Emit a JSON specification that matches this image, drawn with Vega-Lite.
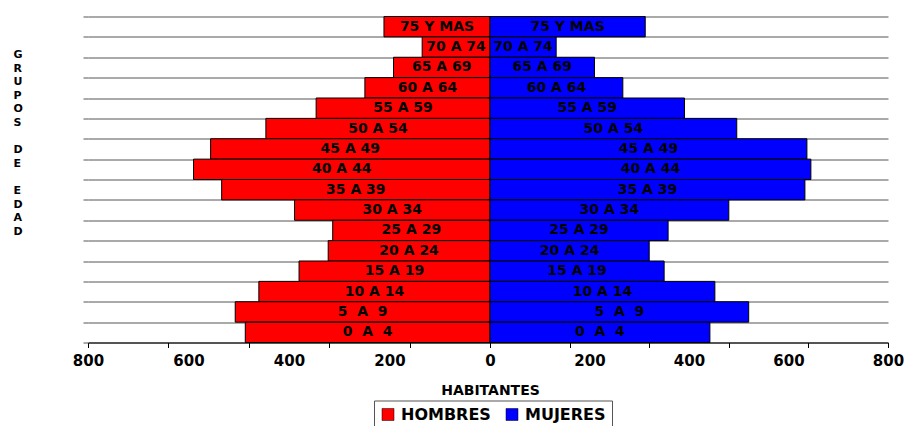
{
  "$schema": "https://vega.github.io/schema/vega-lite/v6.json",
  "background": "white",
  "padding": {"left": 13, "top": 15.5, "right": 0, "bottom": 0},
  "config": {
    "view": {"stroke": null},
    "font": "DejaVu Sans"
  },
  "data": {
    "values": [
      {"grupo": "75 Y MAS", "sexo": "HOMBRES", "habitantes": 211},
      {"grupo": "70 A 74", "sexo": "HOMBRES", "habitantes": 135},
      {"grupo": "65 A 69", "sexo": "HOMBRES", "habitantes": 192},
      {"grupo": "60 A 64", "sexo": "HOMBRES", "habitantes": 249},
      {"grupo": "55 A 59", "sexo": "HOMBRES", "habitantes": 346},
      {"grupo": "50 A 54", "sexo": "HOMBRES", "habitantes": 446},
      {"grupo": "45 A 49", "sexo": "HOMBRES", "habitantes": 556},
      {"grupo": "40 A 44", "sexo": "HOMBRES", "habitantes": 590},
      {"grupo": "35 A 39", "sexo": "HOMBRES", "habitantes": 534},
      {"grupo": "30 A 34", "sexo": "HOMBRES", "habitantes": 389},
      {"grupo": "25 A 29", "sexo": "HOMBRES", "habitantes": 313},
      {"grupo": "20 A 24", "sexo": "HOMBRES", "habitantes": 322},
      {"grupo": "15 A 19", "sexo": "HOMBRES", "habitantes": 380},
      {"grupo": "10 A 14", "sexo": "HOMBRES", "habitantes": 460},
      {"grupo": "5\u00a0 A\u00a0 9", "sexo": "HOMBRES", "habitantes": 507},
      {"grupo": "0\u00a0 A\u00a0 4", "sexo": "HOMBRES", "habitantes": 487},
      {"grupo": "75 Y MAS", "sexo": "MUJERES", "habitantes": 312},
      {"grupo": "70 A 74", "sexo": "MUJERES", "habitantes": 133},
      {"grupo": "65 A 69", "sexo": "MUJERES", "habitantes": 210},
      {"grupo": "60 A 64", "sexo": "MUJERES", "habitantes": 267},
      {"grupo": "55 A 59", "sexo": "MUJERES", "habitantes": 391},
      {"grupo": "50 A 54", "sexo": "MUJERES", "habitantes": 496},
      {"grupo": "45 A 49", "sexo": "MUJERES", "habitantes": 637},
      {"grupo": "40 A 44", "sexo": "MUJERES", "habitantes": 645},
      {"grupo": "35 A 39", "sexo": "MUJERES", "habitantes": 633},
      {"grupo": "30 A 34", "sexo": "MUJERES", "habitantes": 480},
      {"grupo": "25 A 29", "sexo": "MUJERES", "habitantes": 358},
      {"grupo": "20 A 24", "sexo": "MUJERES", "habitantes": 320},
      {"grupo": "15 A 19", "sexo": "MUJERES", "habitantes": 350},
      {"grupo": "10 A 14", "sexo": "MUJERES", "habitantes": 452},
      {"grupo": "5\u00a0 A\u00a0 9", "sexo": "MUJERES", "habitantes": 520},
      {"grupo": "0\u00a0 A\u00a0 4", "sexo": "MUJERES", "habitantes": 442}
    ]
  },
  "spacing": 0,
  "bounds": "flush",
  "resolve": {"scale": {"color": "shared"}, "legend": {"color": "shared"}},
  "hconcat": [
    {
      "width": 402,
      "height": 326,
      "transform": [{"filter": "datum.sexo === 'HOMBRES'"}],
      "resolve": {"scale": {"x": "independent"}, "axis": {"x": "independent"}},
      "encoding": {
        "y": {
          "field": "grupo", "type": "nominal", "sort": null,
          "scale": {"paddingInner": 0, "paddingOuter": 0},
          "axis": {
            "title": ["G", "R", "U", "P", "O", "S", "\u200b", "D", "E", "\u200b", "E", "D", "A", "D"],
            "titleAngle": 0, "titleAlign": "left", "titleBaseline": "alphabetic",
            "titleX": -75, "titleY": 41,
            "titleFont": "DejaVu Sans", "titleFontSize": 11, "titleFontWeight": "bold",
            "titleLineHeight": 13.6, "titleColor": "black",
            "labels": false, "domain": false,
            "ticks": true, "tickSize": 5, "tickColor": "#555555",
            "grid": true, "gridColor": "#555555", "gridOpacity": 1,
            "tickBand": "extent"
          }
        }
      },
      "layer": [
        {
          "mark": {"type": "bar", "stroke": "black", "strokeWidth": 1},
          "encoding": {
            "x": {
              "field": "habitantes", "type": "quantitative",
              "scale": {"domain": [0, 800], "reverse": true, "nice": false, "zero": true},
              "axis": {
                "values": [0, 160, 200, 320, 400, 480, 600, 640, 800],
                "labelExpr": "datum.value % 200 === 0 ? datum.label : ''",
                "labelOverlap": false, "labelFlush": false, "labelBound": false,
                "labelFont": "DejaVu Sans", "labelFontSize": 15, "labelFontWeight": "bold", "labelColor": "black",
                "labelPadding": 6,
                "tickSize": 5, "tickColor": "black",
                "tickOpacity": {"condition": {"test": "datum.value % 160 === 0", "value": 1}, "value": 0},
                "domainColor": "black", "grid": false,
                "title": "HABITANTES", "titleX": 402, "titleAlign": "center",
                "titleFont": "DejaVu Sans", "titleFontSize": 14, "titleFontWeight": "bold", "titleColor": "black",
                "titlePadding": 15
              }
            },
            "color": {
              "field": "sexo", "type": "nominal",
              "scale": {"domain": ["HOMBRES", "MUJERES"], "range": ["#ff0000", "#0000ff"]},
              "legend": {
                "orient": "none", "legendX": 286, "legendY": 384, "direction": "horizontal",
                "title": null, "strokeColor": "#555555", "padding": 6,
                "symbolType": "square", "symbolSize": 144, "symbolStrokeColor": "black", "symbolStrokeWidth": 0.5, "symbolOpacity": 1,
                "labelFont": "DejaVu Sans", "labelFontSize": 16, "labelFontWeight": "bold", "labelColor": "black",
                "labelOffset": 5, "columnPadding": 13
              }
            }
          }
        },
        {
          "mark": {"type": "text", "font": "DejaVu Sans", "fontSize": 14, "fontWeight": "bold", "color": "black", "baseline": "middle", "align": "center"},
          "encoding": {
            "x": {"field": "habitantes", "type": "quantitative", "scale": {"domain": [0, 1600], "reverse": true, "nice": false, "zero": true}, "axis": null},
            "text": {"field": "grupo"}
          }
        }
      ]
    },
    {
      "width": 398,
      "height": 326,
      "transform": [{"filter": "datum.sexo === 'MUJERES'"}],
      "resolve": {"scale": {"x": "independent"}, "axis": {"x": "independent"}},
      "encoding": {
        "y": {
          "field": "grupo", "type": "nominal", "sort": null,
          "scale": {"paddingInner": 0, "paddingOuter": 0},
          "axis": {
            "title": null, "labels": false, "domain": false, "ticks": false,
            "grid": true, "gridColor": "#555555", "gridOpacity": 1,
            "tickBand": "extent"
          }
        }
      },
      "layer": [
        {
          "mark": {"type": "bar", "stroke": "black", "strokeWidth": 1},
          "encoding": {
            "x": {
              "field": "habitantes", "type": "quantitative",
              "scale": {"domain": [0, 800], "nice": false, "zero": true},
              "axis": {
                "values": [0, 160, 200, 320, 400, 480, 600, 640, 800],
                "labelExpr": "datum.value % 200 === 0 && datum.value > 0 ? datum.label : ''",
                "labelOverlap": false, "labelFlush": false, "labelBound": false,
                "labelFont": "DejaVu Sans", "labelFontSize": 15, "labelFontWeight": "bold", "labelColor": "black",
                "labelPadding": 6,
                "tickSize": 5, "tickColor": "black",
                "tickOpacity": {"condition": {"test": "datum.value % 160 === 0", "value": 1}, "value": 0},
                "domainColor": "black", "grid": false,
                "title": null
              }
            },
            "color": {
              "field": "sexo", "type": "nominal",
              "scale": {"domain": ["HOMBRES", "MUJERES"], "range": ["#ff0000", "#0000ff"]},
              "legend": {
                "orient": "none", "legendX": 286, "legendY": 384, "direction": "horizontal",
                "title": null, "strokeColor": "#555555", "padding": 6,
                "symbolType": "square", "symbolSize": 144, "symbolStrokeColor": "black", "symbolStrokeWidth": 0.5, "symbolOpacity": 1,
                "labelFont": "DejaVu Sans", "labelFontSize": 16, "labelFontWeight": "bold", "labelColor": "black",
                "labelOffset": 5, "columnPadding": 13
              }
            }
          }
        },
        {
          "mark": {"type": "text", "font": "DejaVu Sans", "fontSize": 14, "fontWeight": "bold", "color": "black", "baseline": "middle", "align": "center"},
          "encoding": {
            "x": {"field": "habitantes", "type": "quantitative", "scale": {"domain": [0, 1600], "nice": false, "zero": true}, "axis": null},
            "text": {"field": "grupo"}
          }
        }
      ]
    }
  ]
}
